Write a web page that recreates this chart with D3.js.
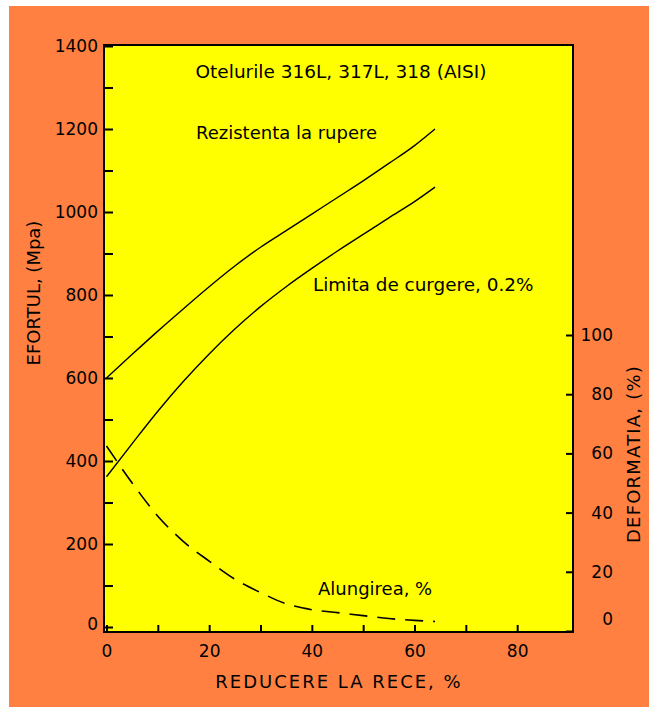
<!DOCTYPE html>
<html>
<head>
<meta charset="utf-8">
<script src="https://cdn.jsdelivr.net/npm/d3@7"></script>
<style>
  body { margin: 0; background: #fff; }
  svg { display: block; font-family: "DejaVu Sans", sans-serif; }
</style>
</head>
<body>
<div class="chart"></div>
<script>
// reducere la rece, %
let reduction = [0, 5, 10, 15, 20, 25, 30, 35, 40, 45, 50, 55, 60, 64]
// rezistenta la rupere, Mpa
let tensile = [600, 657, 713, 767, 820, 870, 915, 955, 995, 1035, 1075, 1117, 1160, 1200]
// limita de curgere 0.2%, Mpa
let yieldStr = [362, 442, 520, 592, 658, 718, 772, 820, 864, 906, 946, 986, 1025, 1060]
// alungirea, %
let elongation = [62.5, 50, 38.8, 30.2, 23.6, 17.5, 13, 9.2, 7.2, 6.2, 5.2, 4.2, 3.6, 3.2]

let xTicks = [0, 10, 20, 30, 40, 50, 60, 70, 80]
let yLeftTicks = d3.range(0, 1401, 100)
let yRightTicks = [0, 20, 40, 60, 80, 100]

let width = 649, height = 707
let plot = { left: 104, top: 45, right: 573, bottom: 632 }

let svg = d3.select(".chart")
    .append("svg")
    .attr("width", width)
    .attr("height", height)

// fundal
svg.append("rect")
    .attr("x", 9).attr("y", 6)
    .attr("width", width - 9).attr("height", height - 6)
    .attr("fill", "#ff8040")
svg.append("rect")
    .attr("x", plot.left).attr("y", plot.top)
    .attr("width", plot.right - plot.left).attr("height", plot.bottom - plot.top)
    .attr("fill", "#ffff00")

// scale
let x = d3.scaleLinear().domain([0, 90]).range([106.5, 568.5])
let yLeft = d3.scaleLinear().domain([0, 1400]).range([627, 46])
let yRight = d3.scaleLinear().domain([0, 100]).range([631, 335])

// axe
let leftAxis = svg.append("g")
    .attr("transform", `translate(${plot.left},0)`)
    .call(d3.axisLeft(yLeft).tickValues(yLeftTicks).tickSize(-9).tickPadding(6)
        .tickFormat(d => d % 200 == 0 ? d : ""))
let rightAxis = svg.append("g")
    .attr("transform", `translate(${plot.right},0)`)
    .call(d3.axisRight(yRight).tickValues(yRightTicks).tickSize(-7).tickPadding(6))
let bottomAxis = svg.append("g")
    .attr("transform", `translate(0,${plot.bottom})`)
    .call(d3.axisBottom(x).tickValues(xTicks).tickSize(-7).tickPadding(13)
        .tickFormat(d => d % 20 == 0 ? d : ""))

;[leftAxis, rightAxis, bottomAxis].forEach(ax => {
    ax.select(".domain").remove()
    ax.selectAll("line").attr("stroke", "#000").attr("stroke-width", 2)
    ax.selectAll("text").attr("font-size", 17).attr("fill", "#000")
        .attr("font-family", "DejaVu Sans, sans-serif")
})
rightAxis.selectAll("text").attr("text-anchor", "end").attr("x", 40)
rightAxis.selectAll(".tick").filter(d => d == 0).select("text").attr("dy", "-0.4em")
leftAxis.selectAll(".tick").filter(d => d == 0).select("text").attr("dy", "0.15em")

// cadru
svg.append("rect")
    .attr("x", plot.left).attr("y", plot.top)
    .attr("width", plot.right - plot.left).attr("height", plot.bottom - plot.top)
    .attr("fill", "none")
    .attr("stroke", "#000")
    .attr("stroke-width", 2)

// curbe
let lineLeft = d3.line()
    .x((d, i) => x(reduction[i]))
    .y(d => yLeft(d))
    .curve(d3.curveMonotoneX)
let lineRight = d3.line()
    .x((d, i) => x(reduction[i]))
    .y(d => yRight(d))
    .curve(d3.curveMonotoneX)

svg.append("path")
    .datum(tensile)
    .attr("d", lineLeft)
    .attr("fill", "none").attr("stroke", "#000").attr("stroke-width", 1.4)
svg.append("path")
    .datum(yieldStr)
    .attr("d", lineLeft)
    .attr("fill", "none").attr("stroke", "#000").attr("stroke-width", 1.4)
svg.append("path")
    .datum(elongation)
    .attr("d", lineRight)
    .attr("fill", "none").attr("stroke", "#000").attr("stroke-width", 1.6)
    .attr("stroke-dasharray", "18,10")

// texte
let labels = [
    { t: "Otelurile 316L, 317L, 318 (AISI)", x: 341, y: 78, a: "middle", s: 18.5 },
    { t: "Rezistenta la rupere", x: 196, y: 139, a: "start", s: 18 },
    { t: "Limita de curgere, 0.2%", x: 313, y: 291, a: "start", s: 18.4 },
    { t: "Alungirea, %", x: 318, y: 595, a: "start", s: 18 }
]
svg.append("g")
    .selectAll("text")
    .data(labels)
    .enter()
    .append("text")
    .attr("x", d => d.x)
    .attr("y", d => d.y)
    .attr("text-anchor", d => d.a)
    .attr("font-size", d => d.s)
    .text(d => d.t)

svg.append("text")
    .attr("transform", "translate(40,293) rotate(-90)")
    .attr("text-anchor", "middle")
    .attr("font-size", 18)
    .text("EFORTUL, (Mpa)")
svg.append("text")
    .attr("transform", "translate(640,454) rotate(-90)")
    .attr("text-anchor", "middle")
    .attr("font-size", 18)
    .attr("letter-spacing", 1.2)
    .text("DEFORMATIA, (%)")
svg.append("text")
    .attr("x", 339)
    .attr("y", 688)
    .attr("text-anchor", "middle")
    .attr("font-size", 18)
    .attr("letter-spacing", 2)
    .text("REDUCERE LA RECE, %")
</script>
</body>
</html>
